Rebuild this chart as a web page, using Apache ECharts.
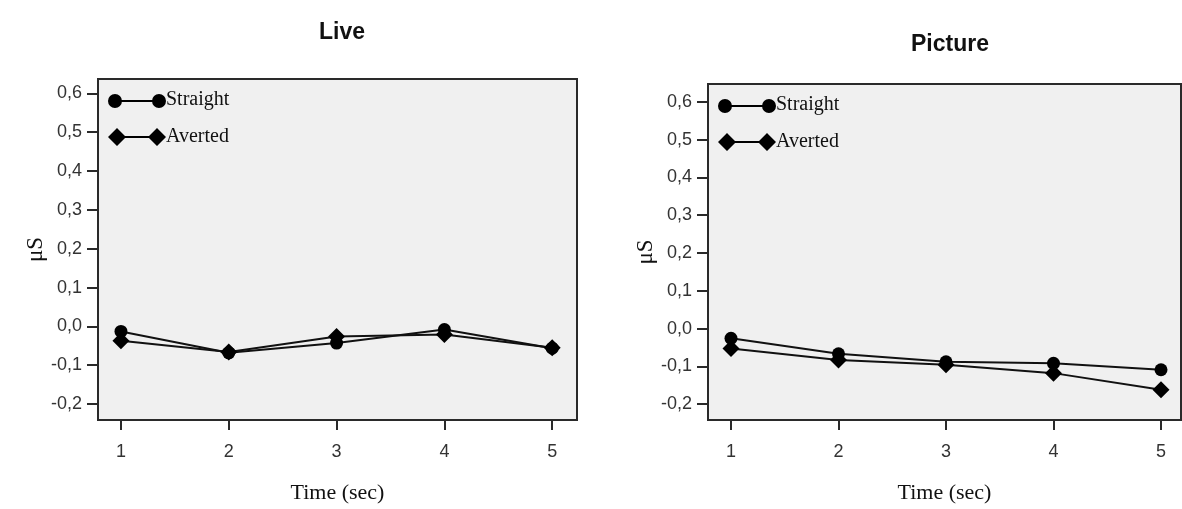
<!DOCTYPE html>
<html><head><meta charset="utf-8">
<script src="https://cdn.jsdelivr.net/npm/echarts@6/dist/echarts.min.js"></script>
<style>html,body{margin:0;padding:0;background:#fff}#c{width:1182px;height:509px}</style>
</head><body><div id="c"></div>
<script>
const times = [1, 2, 3, 4, 5];
const yTicks = [-0.2, -0.1, 0.0, 0.1, 0.2, 0.3, 0.4, 0.5, 0.6];
const titles = ['Live', 'Picture'];
const seriesNames = ['Straight', 'Averted'];
const liveStraight = [-0.013, -0.068, -0.043, -0.008, -0.056];
const liveAverted = [-0.037, -0.066, -0.026, -0.021, -0.055];
const picStraight = [-0.026, -0.067, -0.088, -0.092, -0.109];
const picAverted = [-0.053, -0.083, -0.096, -0.118, -0.162];

const circleIcon = 'path://M0,9A7,7 0 1,1 14,9A7,7 0 1,1 0,9Z M13,8H45V10H13Z M44,9A7,7 0 1,1 58,9A7,7 0 1,1 44,9Z M0,0Z';
const diamondIcon = 'path://M0,9L9,0L18,9L9,18Z M17,8H41V10H17Z M40,9L49,0L58,9L49,18Z';

const fmt = v => { const r = Math.round(v * 10) / 10; return (r === 0 ? 0 : r).toFixed(1).replace('.', ','); };
const pairs = arr => arr.map((v, i) => [times[i], v]);

const grids = [
  {left: 98, top: 79, width: 479, height: 344},
  {left: 708, top: 84, width: 473, height: 341}
];
const yRanges = [[-0.241, 0.637], [-0.242, 0.647]];
const xRanges = [[0.787, 5.23], [0.786, 5.186]];
const titleX = [337, 945];
const titleY = [16, 28];

const option = {
  animation: false,
  backgroundColor: '#ffffff',
  title: titles.map((t, i) => ({
    text: t, left: titleX[i], top: titleY[i], textAlign: 'center',
    textStyle: {fontFamily: 'Liberation Sans, Arial, sans-serif', fontWeight: 'bold', fontSize: 23, color: '#111'}
  })),
  grid: grids.map(g => Object.assign({show: true, backgroundColor: '#f0f0f0', borderColor: '#2a2a2a', borderWidth: 2}, g)),
  legend: [0, 1].map(i => ({
    left: grids[i].left + 5, top: grids[i].top + 6, orient: 'vertical',
    itemWidth: 58, itemHeight: 18, itemGap: 17,
    data: [{name: 'Straight', icon: circleIcon}, {name: 'Averted', icon: diamondIcon}],
    textStyle: {fontFamily: 'Liberation Serif, Times New Roman, serif', fontSize: 20, color: '#111', padding: [0, 0, 0, -5]},
    itemStyle: {color: '#000'}
  })),
  xAxis: [0, 1].map(i => ({
    type: 'value', gridIndex: i, min: xRanges[i][0], max: xRanges[i][1],
    name: 'Time (sec)', nameLocation: 'middle', nameGap: 62,
    nameTextStyle: {fontFamily: 'Liberation Serif, Times New Roman, serif', fontSize: 22, color: '#111'},
    axisLine: {show: true, onZero: false, lineStyle: {color: '#2a2a2a', width: 2}},
    axisTick: {show: true, length: 10, customValues: times, lineStyle: {color: '#2a2a2a', width: 2}},
    axisLabel: {customValues: times, margin: 23, fontFamily: 'Liberation Sans, Arial, sans-serif', fontSize: 18, color: '#333'},
    splitLine: {show: false}
  })),
  yAxis: [0, 1].map(i => ({
    type: 'value', gridIndex: i, min: yRanges[i][0], max: yRanges[i][1],
    name: 'μS', nameLocation: 'middle', nameGap: 50, nameRotate: 90,
    nameTextStyle: {fontFamily: 'Liberation Serif, Times New Roman, serif', fontSize: 23, color: '#111'},
    axisLine: {show: true, onZero: false, lineStyle: {color: '#2a2a2a', width: 2}},
    axisTick: {show: true, length: 11, customValues: yTicks, lineStyle: {color: '#2a2a2a', width: 2}},
    axisLabel: {customValues: yTicks, margin: 16, formatter: fmt, fontFamily: 'Liberation Sans, Arial, sans-serif', fontSize: 18, color: '#333'},
    splitLine: {show: false}
  })),
  series: [
    {name: 'Straight', data: pairs(liveStraight), xAxisIndex: 0, yAxisIndex: 0, symbol: 'circle', symbolSize: 13},
    {name: 'Averted', data: pairs(liveAverted), xAxisIndex: 0, yAxisIndex: 0, symbol: 'diamond', symbolSize: 17},
    {name: 'Straight', data: pairs(picStraight), xAxisIndex: 1, yAxisIndex: 1, symbol: 'circle', symbolSize: 13},
    {name: 'Averted', data: pairs(picAverted), xAxisIndex: 1, yAxisIndex: 1, symbol: 'diamond', symbolSize: 17}
  ].map(s => Object.assign({type: 'line', lineStyle: {color: '#111', width: 2}, itemStyle: {color: '#000'}, emphasis: {disabled: true}}, s))
};
const chart = echarts.init(document.getElementById('c'), null, {renderer: 'canvas'});
chart.setOption(option);
</script></body></html>
